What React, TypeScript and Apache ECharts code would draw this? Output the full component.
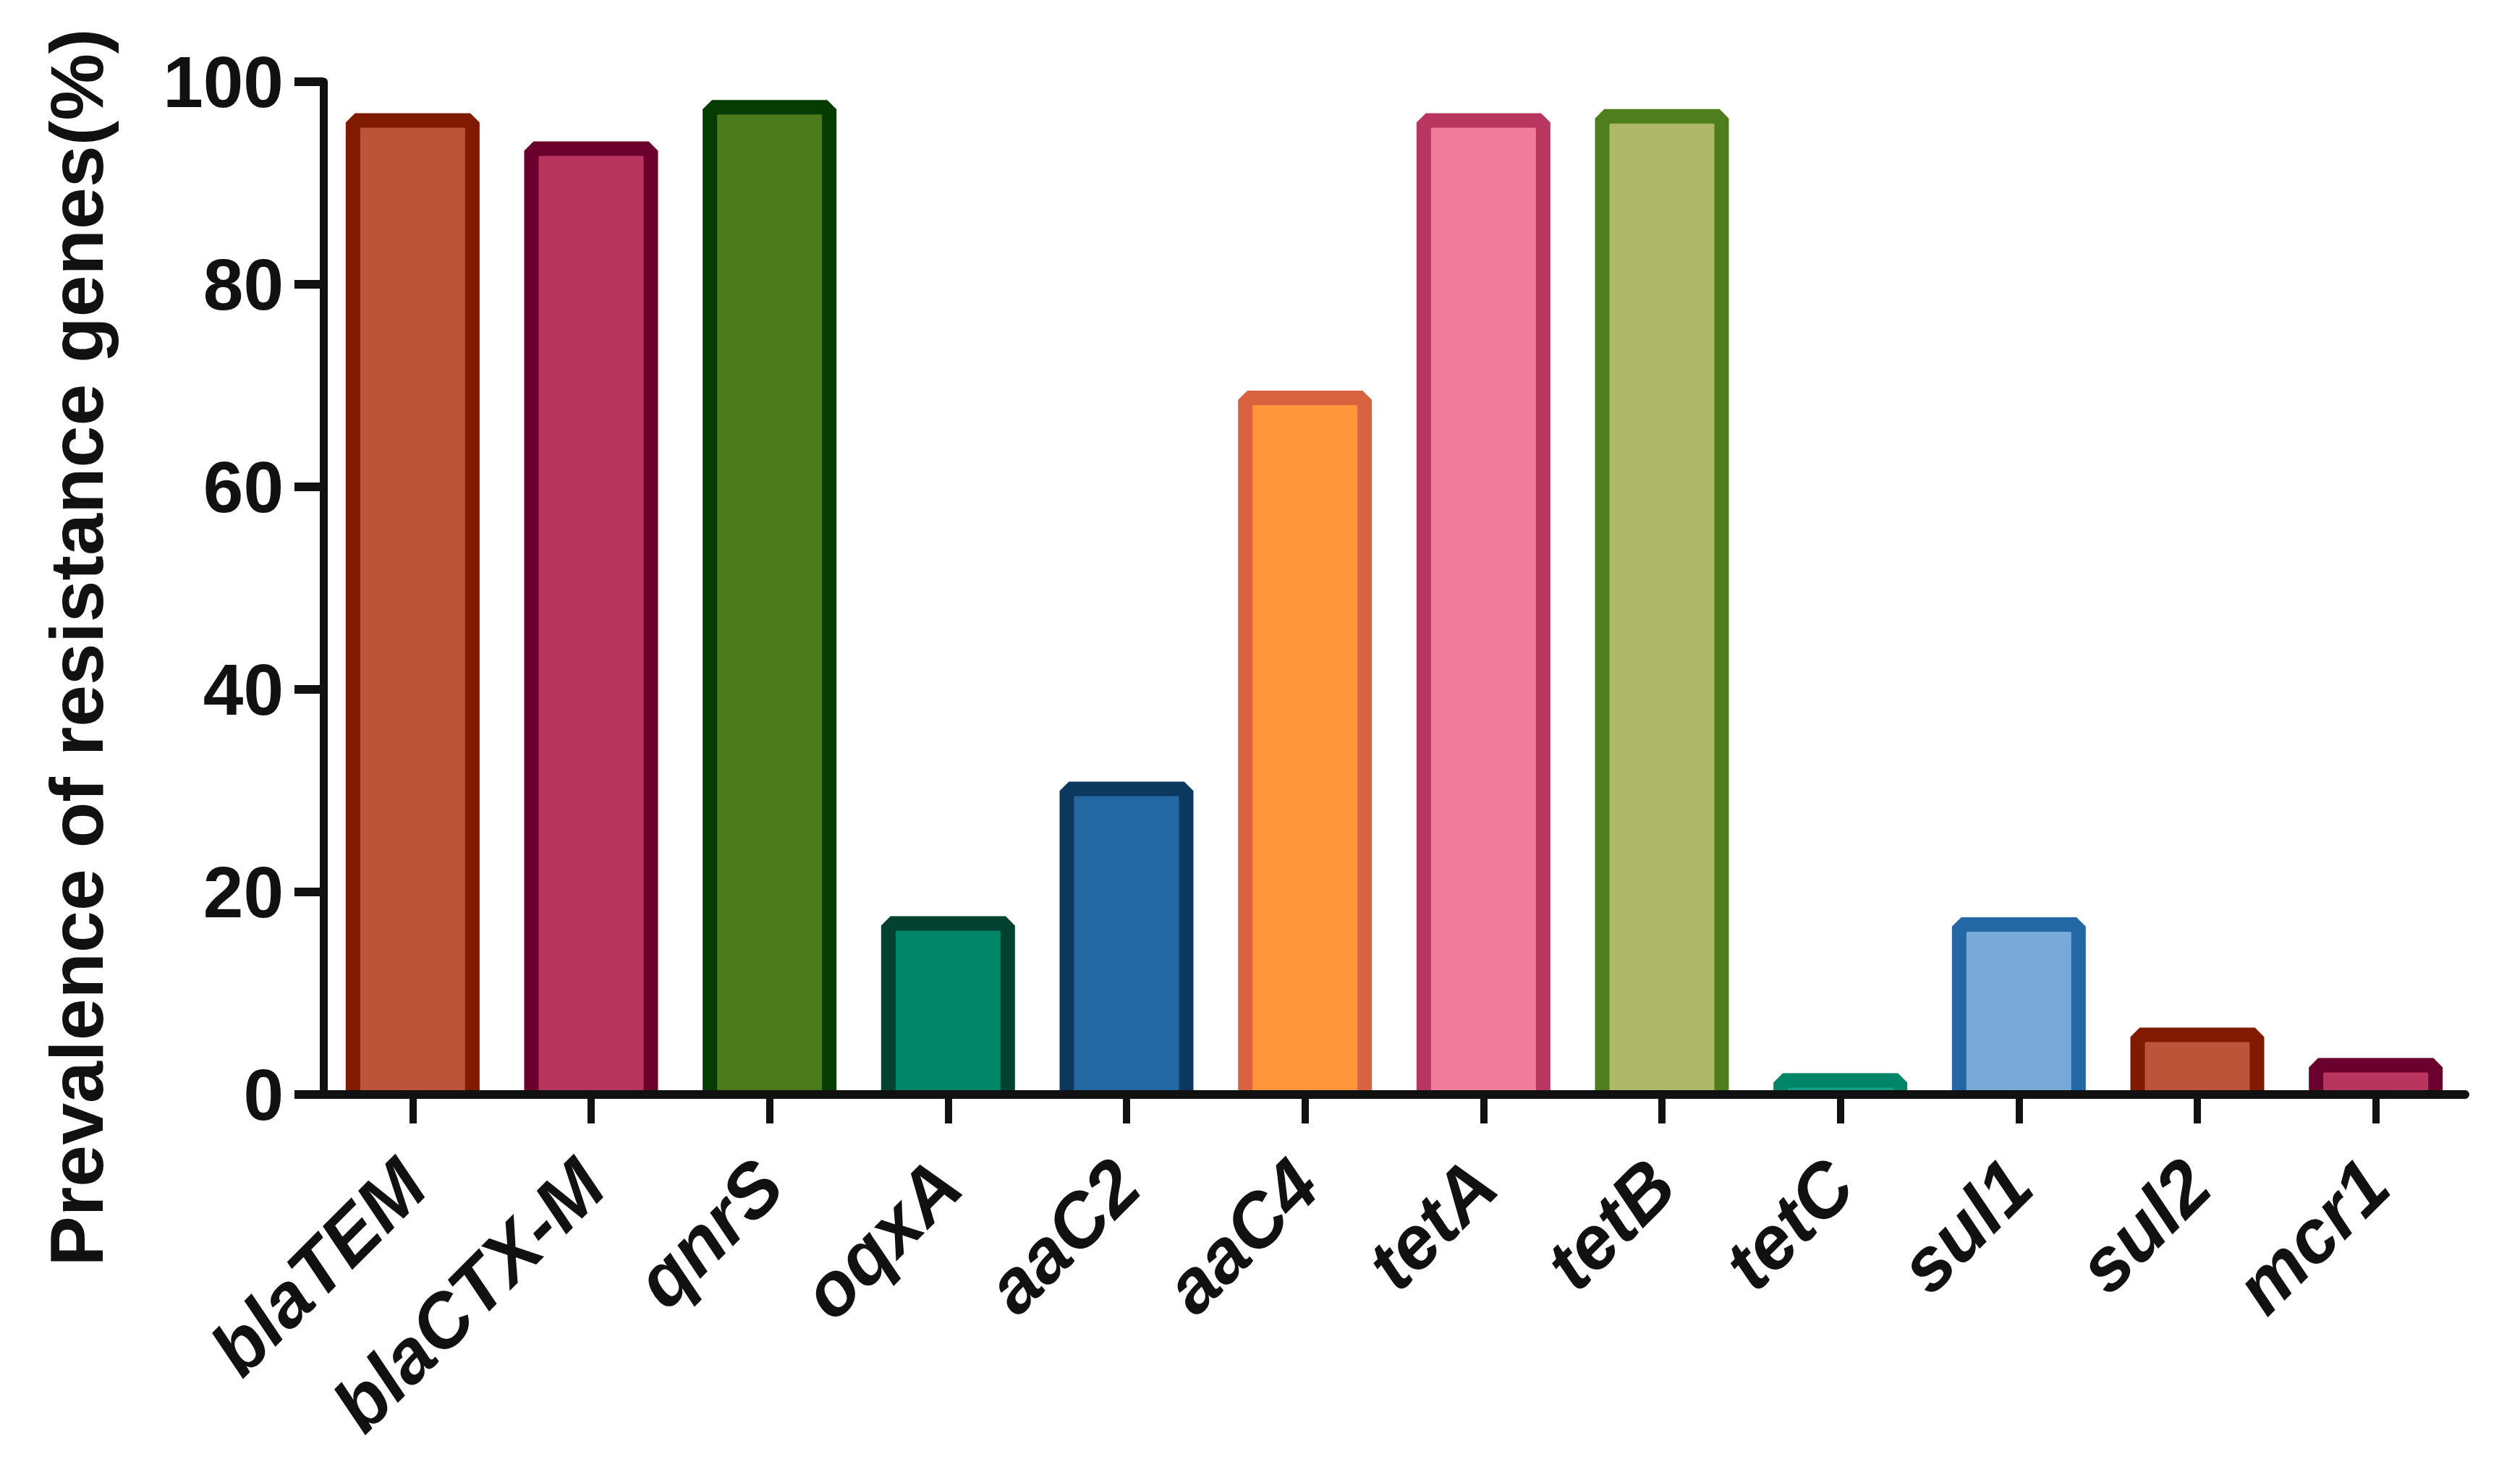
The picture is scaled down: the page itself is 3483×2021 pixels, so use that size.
import React, { useEffect, useRef } from "react";
import * as echarts from "echarts";

const categories = ["blaTEM", "blaCTX-M", "qnrS", "oqxA", "aaC2", "aaC4", "tetA", "tetB", "tetC", "sul1", "sul2", "mcr1"];
const values = [96.9, 94.1, 98.2, 17.6, 30.9, 69.5, 96.9, 97.3, 2.1, 17.5, 6.6, 3.6];
const fillColors = ["#BC543A", "#B8365E", "#4E7A1E", "#008566", "#2368A2", "#FF953A", "#F07C9C", "#ADB968", "#12A085", "#76A8D8", "#BC543A", "#B8365E"];
const borderColors = ["#801A00", "#6A002C", "#053D00", "#00422D", "#0D3960", "#D9633F", "#B9365F", "#4E7E1C", "#008566", "#2368A5", "#801A00", "#6A002C"];
const yMin = 0;
const yMax = 100;
const yInterval = 20;
const yTitle = "Prevalence of resistance genes(%)";

const W = 3483;
const H = 2021;
const GRID = { left: 447, right: 76, top: 113, bottom: 508 };
const FONT = "'Liberation Sans', Arial, Helvetica, sans-serif";
const BAR_FRAC = 0.75;
const BORDER = 20;
const CHAMFER = 7;

export default function App() {
  const ref = useRef<HTMLDivElement>(null);
  useEffect(() => {
    document.body.style.margin = "0";
    if (!ref.current) return;
    const chart = echarts.init(ref.current, undefined, { renderer: "svg" });
    const renderItem = (params: any, api: any) => {
      const idx = api.value(0);
      const v = api.value(1);
      const top = api.coord([idx, v]);
      const base = api.coord([idx, 0]);
      const bandW = api.size([1, 0])[0];
      const w = bandW * BAR_FRAC;
      const x0 = top[0] - w / 2 + BORDER / 2;
      const x1 = top[0] + w / 2 - BORDER / 2;
      const yTop = top[1] + BORDER / 2;
      const yBase = base[1];
      const c = Math.min(CHAMFER, Math.max(0, (yBase - yTop) / 2));
      const i = params.dataIndex;
      return {
        type: "group",
        children: [
          {
            type: "rect",
            shape: { x: x0, y: yTop, width: x1 - x0, height: yBase - yTop },
            style: { fill: fillColors[i] },
          },
          {
            type: "polyline",
            shape: {
              points: [
                [x0, yBase],
                [x0, yTop + c],
                [x0 + c, yTop],
                [x1 - c, yTop],
                [x1, yTop + c],
                [x1, yBase],
              ],
            },
            style: { fill: "none", stroke: borderColors[i], lineWidth: BORDER, lineJoin: "miter", lineCap: "butt" },
          },
        ],
      };
    };
    chart.setOption({
      animation: false,
      backgroundColor: "#ffffff",
      grid: { ...GRID, containLabel: false },
      xAxis: {
        type: "category",
        data: categories,
        z: 10,
        axisLine: { show: true, lineStyle: { color: "#111111", width: 12 } },
        axisTick: { show: true, alignWithLabel: true, length: 40, lineStyle: { color: "#111111", width: 10 } },
        axisLabel: {
          rotate: 45,
          margin: 108,
          fontSize: 104,
          fontWeight: "bold",
          fontStyle: "italic",
          fontFamily: FONT,
          color: "#111111",
        },
        splitLine: { show: false },
      },
      yAxis: {
        type: "value",
        min: yMin,
        max: yMax,
        interval: yInterval,
        z: 10,
        axisLine: { show: true, lineStyle: { color: "#111111", width: 11 } },
        axisTick: { show: true, length: 40, lineStyle: { color: "#111111", width: 12 } },
        axisLabel: { margin: 55, fontSize: 100, fontWeight: "bold", fontFamily: FONT, color: "#111111" },
        splitLine: { show: false },
      },
      graphic: [
        {
          type: "text",
          x: 106,
          y: 895,
          rotation: Math.PI / 2,
          style: {
            text: yTitle,
            fontSize: 104,
            fontWeight: "bold",
            fontFamily: FONT,
            fill: "#111111",
            textAlign: "center",
            textVerticalAlign: "middle",
          },
        },
      ],
      series: [
        {
          type: "custom",
          z: 2,
          renderItem,
          encode: { x: 0, y: 1 },
          data: values.map((v, i) => [i, v]),
        },
      ],
    });
    return () => chart.dispose();
  }, []);
  return <div ref={ref} style={{ position: "fixed", left: 0, top: 0, width: W, height: H }} />;
}
